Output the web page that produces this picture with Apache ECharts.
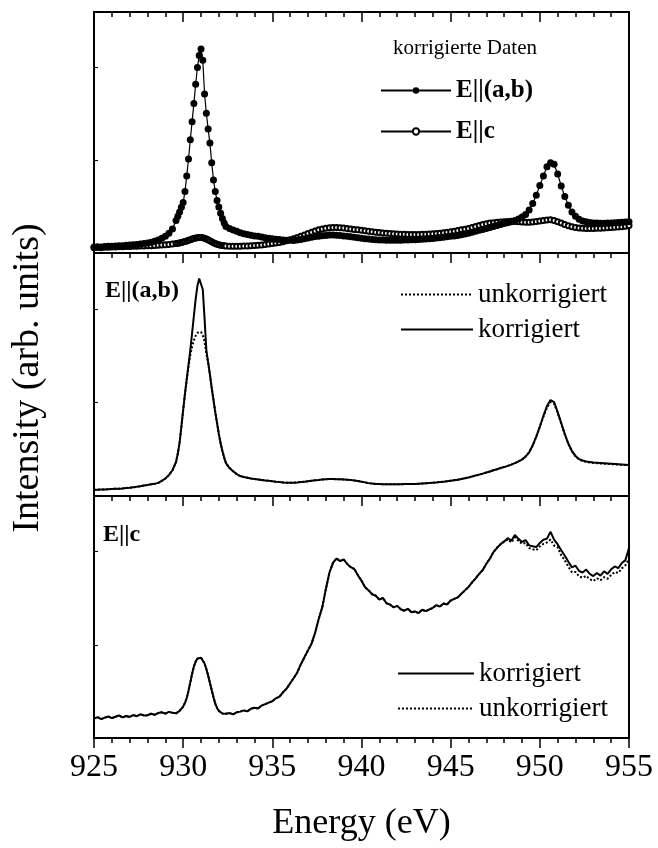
<!DOCTYPE html>
<html>
<head>
<meta charset="utf-8">
<script src="https://cdn.jsdelivr.net/npm/echarts@6/dist/echarts.min.js"></script>
<style>
html, body { margin: 0; padding: 0; background: #fff; }
#chart { width: 658px; height: 848px; }
</style>
</head>
<body>
<div id="chart"></div>
<script>
// energy grid (eV), finer around the 931 eV peak
var energy = [
    925.0,925.2,925.4,925.6,925.8, 926.0,926.2,926.4,926.6,926.8,
    927.0,927.2,927.4,927.6,927.8, 928.0,928.2,928.4,928.6,928.8,
    929.0,929.2,929.4,929.6,
    929.7,929.8,929.9,930.0,930.1,930.2,930.3,930.4,930.5,930.6,930.7,930.8,930.9,
    931.0,931.1,931.2,931.3,931.4,931.5,931.6,931.7,931.8,931.9,932.0,932.1,932.2,932.3,932.4,
    932.6,932.8,933.0,
    933.2,933.4,933.6,933.8,934.0, 934.2,934.4,934.6,934.8,935.0,
    935.2,935.4,935.6,935.8,936.0, 936.2,936.4,936.6,936.8,937.0,
    937.2,937.4,937.6,937.8,938.0, 938.2,938.4,938.6,938.8,939.0,
    939.2,939.4,939.6,939.8,940.0, 940.2,940.4,940.6,940.8,941.0,
    941.2,941.4,941.6,941.8,942.0, 942.2,942.4,942.6,942.8,943.0,
    943.2,943.4,943.6,943.8,944.0, 944.2,944.4,944.6,944.8,945.0,
    945.2,945.4,945.6,945.8,946.0, 946.2,946.4,946.6,946.8,947.0,
    947.2,947.4,947.6,947.8,948.0, 948.2,948.4,948.6,948.8,949.0,
    949.2,949.4,949.6,949.8,950.0, 950.2,950.4,950.6,950.8,951.0,
    951.2,951.4,951.6,951.8,952.0, 952.2,952.4,952.6,952.8,953.0,
    953.2,953.4,953.6,953.8,954.0, 954.2,954.4,954.6,954.8,955.0
];

// oberes Bild: korrigierte Daten
var topAB = [
    2.5,2.6,2.5,2.7,2.8, 2.8,2.9,3.0,3.0,3.2,
    3.3,3.4,3.5,3.7,3.9, 4.2,4.5,4.9,5.4,6.1,
    7.0,8.2,10.0,13.5,
    15.2,17.0,19.0,21.0,25.5,32.0,39.0,47.0,54.5,62.0,70.0,77.0,82.0,
    84.6,80.0,66.0,58.0,51.5,45.6,37.5,30.3,25.5,21.8,19.1,16.5,14.3,12.5,11.0,
    10.2,9.5,9.0,
    8.4,8.0,7.7,7.4,7.1, 6.9,6.6,6.3,6.1,5.9,
    5.7,5.6,5.4,5.3,5.3, 5.2,5.4,5.6,5.9,6.2,
    6.5,6.8,7.0,7.2,7.3, 7.5,7.5,7.4,7.3,7.1,
    6.9,6.7,6.5,6.3,6.1, 5.9,5.8,5.6,5.5,5.4,
    5.4,5.3,5.3,5.3,5.3, 5.3,5.4,5.4,5.5,5.5,
    5.6,5.7,5.8,5.9,6.0, 6.2,6.3,6.5,6.7,6.9,
    7.1,7.3,7.6,7.9,8.2, 8.6,9.0,9.4,9.8,10.2,
    10.6,11.0,11.4,11.8,12.2, 12.6,13.0,13.5,14.1,14.9,
    16.0,17.8,20.5,24.0,28.0, 32.0,35.8,37.5,36.8,32.8,
    27.8,23.4,19.8,17.0,15.2, 14.0,13.3,13.0,12.7,12.5,
    12.4,12.3,12.3,12.4,12.5, 12.6,12.7,12.8,12.9,13.0
];
var topC = [
    2.2,2.3,2.2,2.4,2.4, 2.5,2.5,2.6,2.6,2.7,
    2.7,2.8,2.8,2.9,2.9, 3.0,3.0,3.1,3.2,3.3,
    3.4,3.5,3.7,3.9,
    4.0,4.2,4.4,4.6,4.8,5.0,5.3,5.5,5.8,6.0,6.2,6.3,6.4,
    6.4,6.3,6.1,5.8,5.5,5.1,4.7,4.3,3.9,3.6,3.4,3.2,3.1,3.0,2.9,
    2.8,2.8,2.8,
    2.8,2.9,2.9,3.0,3.1, 3.2,3.3,3.5,3.7,3.9,
    4.1,4.4,4.7,5.1,5.5, 5.9,6.4,6.9,7.5,8.1,
    8.6,9.1,9.6,10.0,10.3, 10.5,10.6,10.6,10.5,10.4,
    10.2,10.0,9.8,9.6,9.4, 9.2,9.0,8.8,8.6,8.5,
    8.3,8.2,8.1,8.0,7.9, 7.8,7.8,7.7,7.7,7.7,
    7.7,7.8,7.8,7.9,8.0, 8.1,8.2,8.4,8.6,8.8,
    9.0,9.3,9.6,9.9,10.2, 10.6,11.0,11.4,11.8,12.1,
    12.4,12.6,12.8,12.9,13.0, 13.1,13.2,13.1,13.0,12.9,
    12.8,12.8,12.9,13.1,13.3, 13.5,13.7,13.8,13.5,13.0,
    12.4,11.8,11.3,10.9,10.6, 10.4,10.3,10.2,10.2,10.2,
    10.3,10.3,10.4,10.5,10.6, 10.7,10.8,10.9,11.1,11.4
];

// mittleres Bild: E||(a,b)
var midKorr = [
    2.5,2.6,2.7,2.7,2.8, 2.9,3.0,3.0,3.1,3.3,
    3.4,3.6,3.8,4.0,4.3, 4.5,4.8,5.0,5.4,6.2,
    7.2,8.6,10.6,14.0,
    17.5,22.0,28.5,35.4,42.0,48.0,54.0,60.0,67.0,74.0,81.0,86.5,89.5,
    89.6,85.0,73.0,60.0,55.0,50.0,44.5,39.5,34.5,30.0,25.5,21.7,18.5,15.8,13.5,
    11.5,10.2,9.0,
    8.2,7.8,7.5,7.2,7.0, 6.8,6.6,6.4,6.3,6.1,
    5.9,5.8,5.6,5.5,5.5, 5.5,5.6,5.8,5.9,6.1,
    6.3,6.5,6.6,6.8,6.9, 7.0,7.0,6.9,6.9,6.8,
    6.7,6.6,6.4,6.2,5.9, 5.6,5.3,5.1,4.9,4.9,
    4.8,4.8,4.8,4.8,4.8, 4.8,4.9,4.9,4.9,4.9,
    5.0,5.1,5.2,5.3,5.5, 5.6,5.8,5.9,6.1,6.3,
    6.5,6.7,7.0,7.3,7.6, 8.0,8.4,8.8,9.2,9.7,
    10.1,10.6,11.0,11.5,11.9, 12.4,12.9,13.5,14.2,15.0,
    16.2,18.0,20.8,24.4,28.5, 33.0,37.0,39.5,38.6,34.5,
    30.0,25.5,21.5,18.5,16.5, 15.2,14.6,14.2,14.0,13.8,
    13.7,13.6,13.5,13.4,13.3, 13.2,13.1,13.0,12.9,12.8
];
var midUnkorr = [
    2.5,2.6,2.7,2.7,2.8, 2.9,3.0,3.0,3.1,3.3,
    3.4,3.6,3.8,4.0,4.3, 4.5,4.8,5.0,5.4,6.2,
    7.2,8.6,10.6,14.0,
    17.5,22.0,28.5,35.4,42.0,48.0,53.5,58.0,61.5,64.0,66.0,67.2,67.8,
    67.5,66.2,63.5,58.5,55.0,50.0,44.5,39.5,34.5,30.0,25.5,21.7,18.5,15.8,13.5,
    11.5,10.2,9.0,
    8.2,7.8,7.5,7.2,7.0, 6.8,6.6,6.4,6.3,6.1,
    5.9,5.8,5.6,5.5,5.5, 5.5,5.6,5.8,5.9,6.1,
    6.3,6.5,6.6,6.8,6.9, 7.0,7.0,6.9,6.9,6.8,
    6.7,6.6,6.4,6.2,5.9, 5.6,5.3,5.1,4.9,4.9,
    4.8,4.8,4.8,4.8,4.8, 4.8,4.9,4.9,4.9,4.9,
    5.0,5.1,5.2,5.3,5.5, 5.6,5.8,5.9,6.1,6.3,
    6.5,6.7,7.0,7.3,7.6, 8.0,8.4,8.8,9.2,9.7,
    10.1,10.6,11.0,11.5,11.9, 12.4,12.9,13.5,14.2,15.0,
    16.2,18.0,20.8,24.4,28.5, 32.6,36.4,38.6,38.0,34.2,
    29.8,25.3,21.4,18.4,16.3, 15.0,14.4,14.0,13.8,13.6,
    13.5,13.4,13.3,13.2,13.1, 13.0,12.9,12.8,12.8,12.7
];

// unteres Bild: E||c
var botKorr = [
    8.0,8.6,7.8,8.4,8.9, 8.2,8.8,9.3,8.5,9.1,
    8.7,9.5,9.0,9.8,9.3, 9.4,10.0,9.6,10.3,10.6,
    10.1,10.8,10.4,10.2,
    10.8,11.2,12.0,13.0,14.5,16.5,19.5,23.0,26.5,29.5,31.6,32.8,33.4,
    33.2,32.4,30.8,28.5,25.8,22.8,19.8,16.8,14.2,12.4,11.2,10.5,10.1,9.9,10.0,
    10.3,9.8,10.6,
    10.9,11.4,11.0,12.1,12.5, 12.2,13.4,14.0,14.6,15.2,
    16.4,17.1,18.9,20.4,22.6, 24.8,27.1,30.5,33.4,36.2,
    39.0,43.5,49.2,54.0,61.5, 68.3,72.4,74.2,73.1,73.8,
    71.9,70.6,69.8,67.2,65.0, 62.3,61.0,59.4,58.8,57.2,
    57.9,55.7,55.1,54.0,54.6, 53.2,52.6,53.4,52.0,52.3,
    51.6,53.0,52.4,53.1,53.8, 54.9,54.3,55.6,55.2,56.8,
    57.5,58.1,59.6,61.0,62.4, 64.3,66.0,67.8,69.4,72.0,
    74.1,76.8,78.6,80.1,81.2, 82.6,81.5,83.9,82.3,81.0,
    81.8,79.6,79.2,78.9,80.6, 81.9,82.4,85.2,82.0,80.0,
    77.6,75.3,72.8,70.5,71.2, 69.0,68.4,69.6,67.8,66.9,
    68.2,67.1,68.9,67.8,69.7, 70.9,70.2,72.3,73.5,78.5
];
var botUnkorr = [
    8.0,8.6,7.8,8.4,8.9, 8.2,8.8,9.3,8.5,9.1,
    8.7,9.5,9.0,9.8,9.3, 9.4,10.0,9.6,10.3,10.6,
    10.1,10.8,10.4,10.2,
    10.8,11.2,12.0,13.0,14.5,16.5,19.5,23.0,26.5,29.5,31.6,32.8,33.4,
    33.2,32.4,30.8,28.5,25.8,22.8,19.8,16.8,14.2,12.4,11.2,10.5,10.1,9.9,10.0,
    10.3,9.8,10.6,
    10.9,11.4,11.0,12.1,12.5, 12.2,13.4,14.0,14.6,15.2,
    16.4,17.1,18.9,20.4,22.6, 24.8,27.1,30.5,33.4,36.2,
    39.0,43.5,49.2,54.0,61.5, 68.3,72.4,74.2,73.1,73.8,
    71.9,70.6,69.8,67.2,65.0, 62.3,61.0,59.4,58.8,57.2,
    57.9,55.7,55.1,54.0,54.6, 53.2,52.6,53.4,52.0,52.3,
    51.6,53.0,52.4,53.1,53.8, 54.9,54.3,55.6,55.2,56.8,
    57.5,58.1,59.6,61.0,62.4, 64.3,66.0,67.8,69.4,72.0,
    74.1,76.8,78.6,80.1,81.2, 82.0,80.8,82.9,81.5,80.2,
    80.6,78.5,78.0,77.6,79.2, 80.2,80.8,82.0,79.5,78.8,
    75.5,73.4,70.8,68.5,68.6, 66.8,66.2,67.0,65.6,64.9,
    66.0,65.2,66.5,65.8,67.4, 68.6,68.2,70.1,71.4,74.0
];

var xTickLabels = [925, 930, 935, 940, 945, 950, 955];

var serif = 'Liberation Serif';

function pairs(values) {
    return energy.map(function (e, i) { return [e, values[i]]; });
}

var grids = [
    {left: 94, right: 29, top: 12, height: 241},
    {left: 94, right: 29, top: 253, height: 243},
    {left: 94, right: 29, top: 496, height: 242}
];

var xAxes = [];
var yAxes = [];
for (var g = 0; g < 3; g++) {
    // top edge: ticks pointing into the panel
    xAxes.push({
        gridIndex: g, type: 'value', position: 'top',
        min: xTickLabels[0], max: xTickLabels[xTickLabels.length - 1],
        interval: xTickLabels[1] - xTickLabels[0],
        axisLine: {show: true, onZero: false, lineStyle: {color: '#000', width: 2}},
        axisTick: {show: true, inside: true, length: 10, lineStyle: {color: '#000', width: 1.5}},
        minorTick: {show: true, splitNumber: 5, length: 5, lineStyle: {color: '#000', width: 1.5}},
        axisLabel: {show: false},
        splitLine: {show: false}
    });
    // bottom edge
    xAxes.push({
        gridIndex: g, type: 'value', position: 'bottom',
        min: xTickLabels[0], max: xTickLabels[xTickLabels.length - 1],
        interval: xTickLabels[1] - xTickLabels[0],
        axisLine: {show: true, onZero: false, lineStyle: {color: '#000', width: 2}},
        axisTick: {show: g === 2, inside: false, length: 10, lineStyle: {color: '#000', width: 1.5}},
        minorTick: {show: g === 2, splitNumber: 5, length: 5, lineStyle: {color: '#000', width: 1.5}},
        axisLabel: {
            show: g === 2, margin: 14, color: '#000',
            fontFamily: serif, fontSize: 32
        },
        splitLine: {show: false},
        name: g === 2 ? 'Energy (eV)' : '',
        nameLocation: 'middle',
        nameGap: 68,
        nameTextStyle: {fontFamily: serif, fontSize: 36, color: '#000'}
    });
    yAxes.push({
        gridIndex: g, type: 'value', position: 'left', min: 0, max: 100, interval: 38.5,
        axisLine: {show: true, onZero: false, lineStyle: {color: '#000', width: 2}},
        axisTick: {show: true, inside: true, length: 4, lineStyle: {color: '#000'}},
        axisLabel: {show: false},
        splitLine: {show: false}
    });
    yAxes.push({
        gridIndex: g, type: 'value', position: 'right', min: 0, max: 100,
        axisLine: {show: true, onZero: false, lineStyle: {color: '#000', width: 2}},
        axisTick: {show: false},
        axisLabel: {show: false},
        splitLine: {show: false}
    });
}

var chart = echarts.init(document.getElementById('chart'));
var option = {
    backgroundColor: '#fff',
    animation: false,
    grid: grids,
    xAxis: xAxes,
    yAxis: yAxes,
    legend: [
        {
            data: ['E||(a,b)', 'E||c'],
            orient: 'vertical', left: 380, top: 78, padding: 0,
            itemWidth: 70, itemHeight: 8, itemGap: 16,
            textStyle: {fontFamily: serif, fontSize: 25, fontWeight: 'bold', color: '#000'}
        },
        {
            data: ['unkorrigiert', 'korrigiert'],
            orient: 'vertical', left: 400, top: 281, padding: 0,
            itemWidth: 72, itemHeight: 8, itemGap: 8,
            itemStyle: {opacity: 0},
            textStyle: {fontFamily: serif, fontSize: 27, color: '#000'}
        },
        {
            data: ['korrigiert', 'unkorrigiert'],
            orient: 'vertical', left: 397, top: 660, padding: 0,
            itemWidth: 76, itemHeight: 8, itemGap: 8,
            itemStyle: {opacity: 0},
            textStyle: {fontFamily: serif, fontSize: 27, color: '#000'}
        }
    ],
    graphic: [
        {
            type: 'text', left: 393, top: 38,
            style: {text: 'korrigierte Daten', font: '21px "Liberation Serif"', fill: '#000'}
        },
        {
            type: 'text', left: 105, top: 279,
            style: {text: 'E||(a,b)', font: 'bold 24px "Liberation Serif"', fill: '#000'}
        },
        {
            type: 'text', left: 103, top: 523,
            style: {text: 'E||c', font: 'bold 24px "Liberation Serif"', fill: '#000'}
        },
        {
            type: 'text', x: 28, y: 378, rotation: Math.PI / 2,
            style: {
                text: 'Intensity (arb. units)', font: '38px "Liberation Serif"', fill: '#000',
                align: 'center', verticalAlign: 'middle'
            }
        }
    ],
    series: [
        {
            name: 'E||c', type: 'line', xAxisIndex: 0, yAxisIndex: 0,
            data: pairs(topC),
            symbol: 'emptyCircle', symbolSize: 5, showAllSymbol: true,
            itemStyle: {color: '#000', borderWidth: 1},
            lineStyle: {color: '#000', width: 1.2}
        },
        {
            name: 'E||(a,b)', type: 'line', xAxisIndex: 0, yAxisIndex: 0,
            data: pairs(topAB),
            symbol: 'circle', symbolSize: 7, showAllSymbol: true,
            itemStyle: {color: '#000'},
            lineStyle: {color: '#000', width: 1.2}
        },
        {
            name: 'unkorrigiert', type: 'line', xAxisIndex: 2, yAxisIndex: 2,
            data: pairs(midUnkorr), symbol: 'none',
            itemStyle: {color: '#000'},
            lineStyle: {color: '#000', width: 2, type: 'dotted'}
        },
        {
            name: 'korrigiert', type: 'line', xAxisIndex: 2, yAxisIndex: 2,
            data: pairs(midKorr), symbol: 'none',
            itemStyle: {color: '#000'},
            lineStyle: {color: '#000', width: 2}
        },
        {
            name: 'unkorrigiert', type: 'line', xAxisIndex: 4, yAxisIndex: 4,
            data: pairs(botUnkorr), symbol: 'none',
            itemStyle: {color: '#000'},
            lineStyle: {color: '#000', width: 2, type: 'dotted'}
        },
        {
            name: 'korrigiert', type: 'line', xAxisIndex: 4, yAxisIndex: 4,
            data: pairs(botKorr), symbol: 'none',
            itemStyle: {color: '#000'},
            lineStyle: {color: '#000', width: 2}
        }
    ]
};
chart.setOption(option);
</script>
</body>
</html>
